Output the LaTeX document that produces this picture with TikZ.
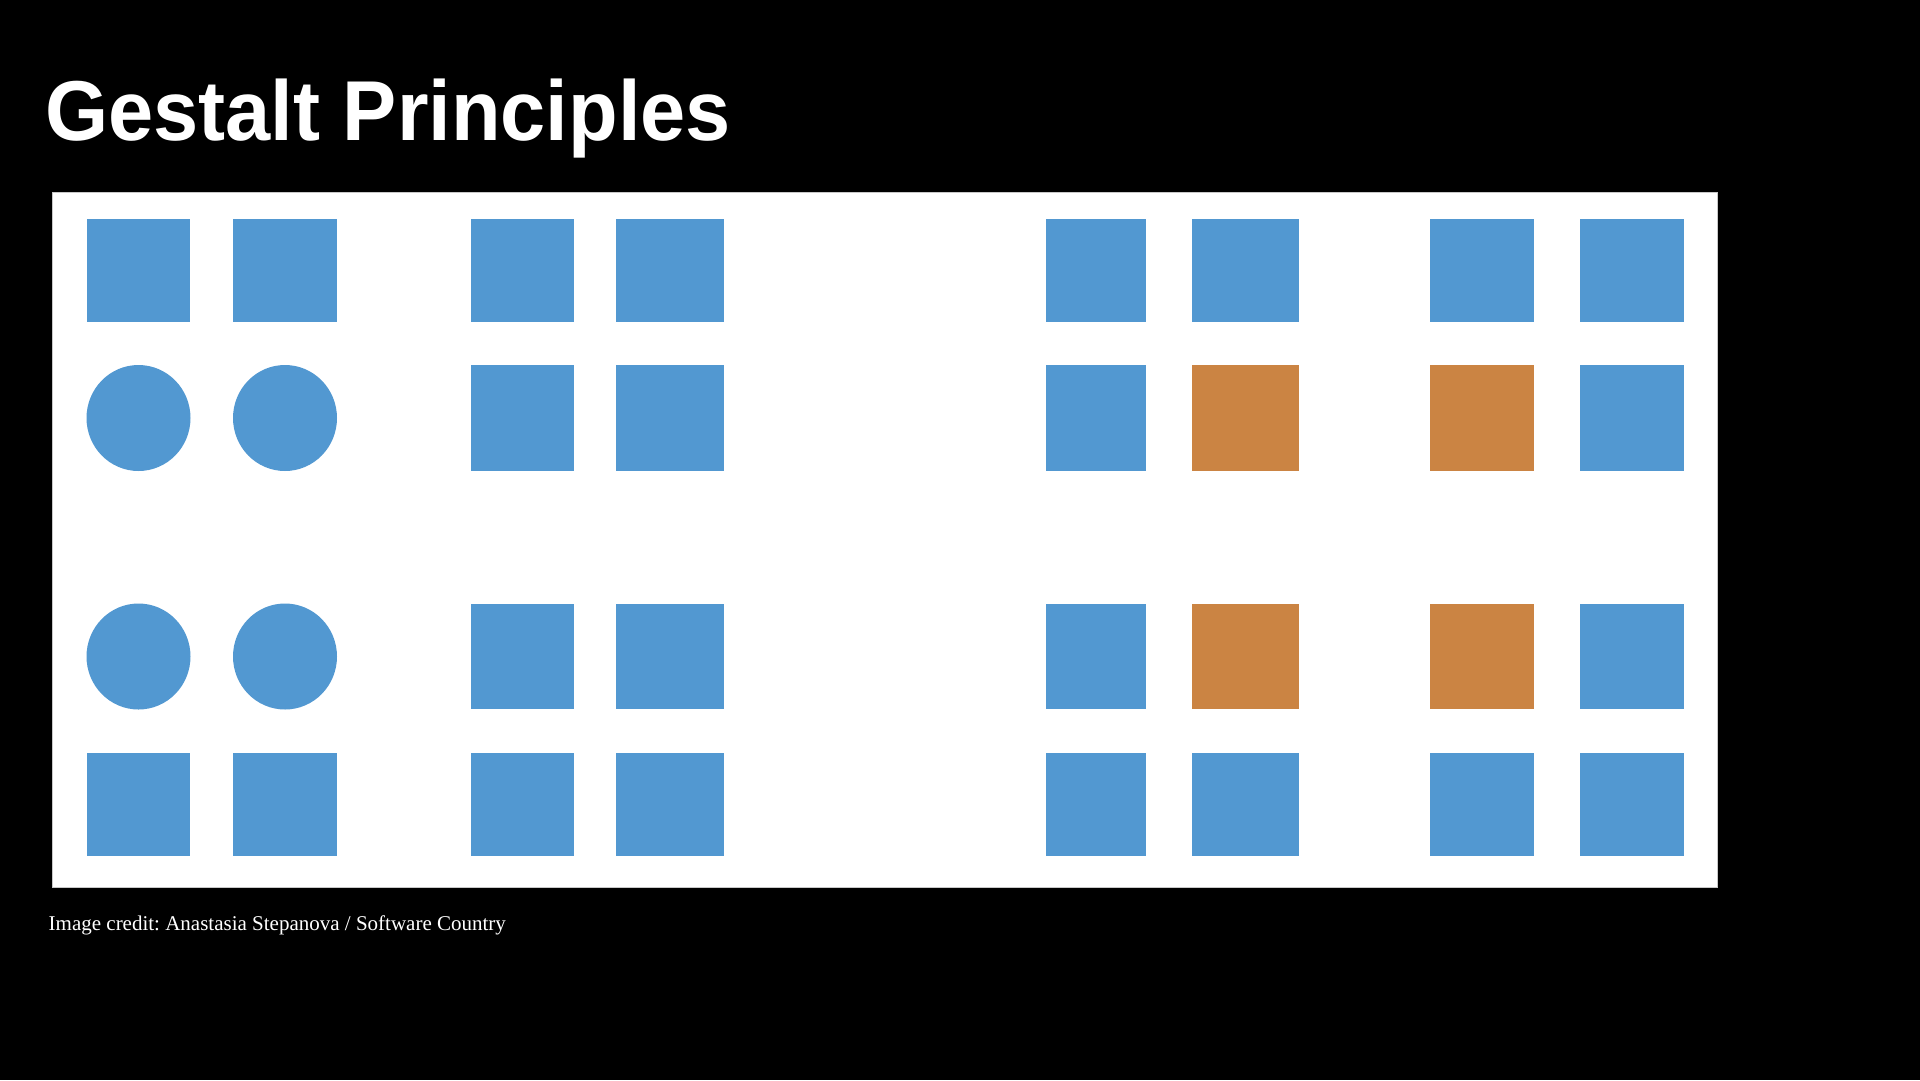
\documentclass[tikz,border=0pt]{standalone}
\usepackage{fontspec}
\setmainfont{Liberation Serif}
\newfontfamily\titlefont{Liberation Sans}
\usepackage{graphicx}
\frenchspacing
\definecolor{shapeblue}{RGB}{82,152,209}
\definecolor{shapeorange}{RGB}{203,132,67}
\definecolor{panelline}{RGB}{200,200,200}
\tikzset{
  bsq/.style={fill=shapeblue},
  osq/.style={fill=shapeorange},
}
\begin{document}
\begin{tikzpicture}[x=1pt,y=-1pt]
\useasboundingbox (0,0) rectangle (1920,1080);
\fill[black] (0,0) rectangle (1920,1080);
% title
\node[anchor=base west, inner sep=0pt, text=white] (title) at (45,140)
  {\scalebox{0.955}[1]{\titlefont\bfseries\fontsize{85}{100}\selectfont Gestalt Principles}};
% panel
\fill[white, draw=panelline, line width=1pt] (52.5,192) rectangle (1717,887);
% grid of shapes
% row 1 (all blue)
\foreach \xa/\xb in {87/190,233/337,471/574,616/724,1046/1146,1192/1299,1430/1534,1580/1684}
  \fill[bsq] (\xa,219) rectangle (\xb,322);
% row 4 (all blue)
\foreach \xa/\xb in {87/190,233/337,471/574,616/724,1046/1146,1192/1299,1430/1534,1580/1684}
  \fill[bsq] (\xa,753) rectangle (\xb,856);
% rows 2 and 3
\foreach \ya/\yb in {365/471,604/709}{
  \fill[bsq] (138.5,{(\ya+\yb)/2}) ellipse [x radius=52, y radius=53];
  \fill[bsq] (285,{(\ya+\yb)/2}) ellipse [x radius=52, y radius=53];
  \fill[bsq] (471,\ya) rectangle (574,\yb);
  \fill[bsq] (616,\ya) rectangle (724,\yb);
  \fill[bsq] (1046,\ya) rectangle (1146,\yb);
  \fill[osq] (1192,\ya) rectangle (1299,\yb);
  \fill[osq] (1430,\ya) rectangle (1534,\yb);
  \fill[bsq] (1580,\ya) rectangle (1684,\yb);
}
% credit
\node[anchor=base west, inner sep=0pt, text=white, font=\fontsize{21}{25}\selectfont] (credit) at (48.5,930)
  {Image credit: Anastasia Stepanova / Software Country};
\end{tikzpicture}
\end{document}
